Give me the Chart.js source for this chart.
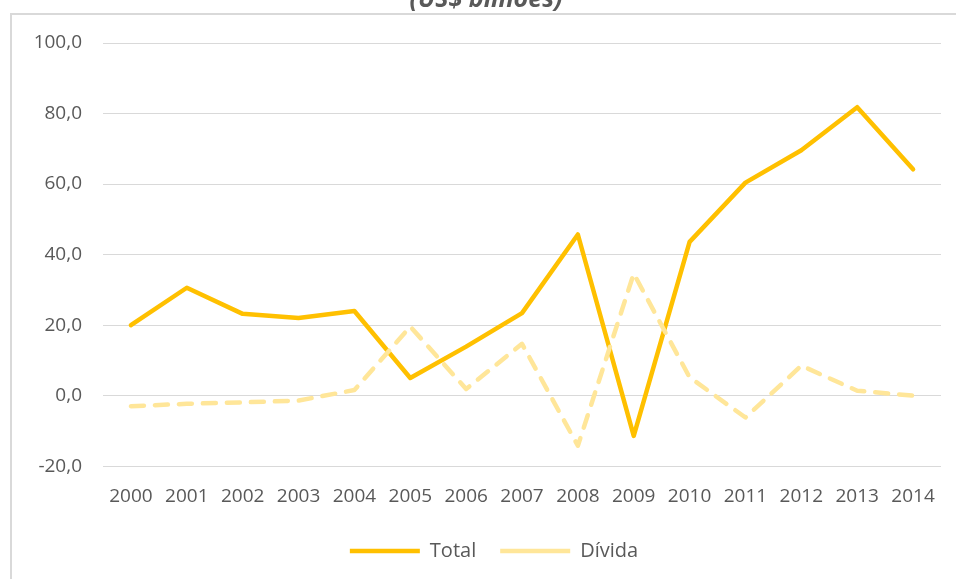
<!DOCTYPE html>
<html>
<head>
<meta charset="utf-8">
<script src="https://cdn.jsdelivr.net/npm/chart.js@4"></script>
<style>
	html, body { margin: 0; padding: 0; background: #fff; overflow: hidden; }
	body { width: 956px; height: 579px; position: relative; }
	#frame {
		position: absolute; left: 10px; top: 13px; width: 960px; height: 580px;
		border-top: 2px solid #d9d9d9; border-left: 2px solid #d9d9d9;
	}
	#wrap { position: absolute; left: 0; top: -15px; width: 956px; height: 594px; }
</style>
</head>
<body>
<div id="frame"></div>
<div id="wrap"><canvas id="chartIED"></canvas></div>
<script>
'use strict';

const anos = ['2000', '2001', '2002', '2003', '2004', '2005', '2006', '2007', '2008', '2009', '2010', '2011', '2012', '2013', '2014'];
const total = [20.0, 30.6, 23.2, 22.0, 24.0, 5.0, 13.9, 23.4, 45.7, -11.4, 43.6, 60.4, 69.6, 81.8, 64.2];
const divida = [-3.0, -2.3, -1.9, -1.4, 1.6, 19.6, 1.9, 14.7, -14.2, 34.6, 5.2, -6.2, 8.5, 1.4, 0.0];
const titulo = '(US$ bilhões)';

Chart.defaults.font.family = "'Open Sans', sans-serif";
Chart.defaults.font.size = 19;
Chart.defaults.color = '#595959';

// legenda um pouco deslocada para a direita, como no gráfico do Excel
const shiftLegend = {
	id: 'shiftLegend',
	afterLayout: chart => {
		chart.legend.left += 8;
		chart.legend.right += 8;
	},
};

const ctx = document.getElementById('chartIED').getContext('2d');
const myChart = new Chart(ctx, {
	type: 'line',
	data: {
		labels: anos,
		datasets: [
			{
				label: 'Total',
				data: total,
				borderColor: '#FFC000',
				backgroundColor: '#FFC000',
				borderWidth: 4.5,
				borderCapStyle: 'round',
				borderJoinStyle: 'round',
				pointRadius: 0,
				order: 1,
			},
			{
				label: 'Dívida',
				data: divida,
				borderColor: '#FFE699',
				backgroundColor: '#FFE699',
				borderWidth: 4.5,
				borderDash: [13, 11],
				borderCapStyle: 'round',
				borderJoinStyle: 'round',
				pointRadius: 0,
				order: 0,
			},
		],
	},
	options: {
		responsive: true,
		maintainAspectRatio: false,
		animation: false,
		layout: {padding: {left: 31, right: 15, top: 0, bottom: 8}},
		plugins: {
			title: {
				display: true,
				text: titulo,
				font: {size: 25, weight: 'bold', style: 'italic'},
				color: '#595959',
				padding: {top: 0, bottom: 28},
			},
			legend: {
				position: 'bottom',
				labels: {
					usePointStyle: true,
					pointStyle: 'line',
					pointStyleWidth: 70,
					boxHeight: 20,
					padding: 24,
					font: {size: 20},
					sort: (a, b) => a.datasetIndex - b.datasetIndex,
				},
			},
			tooltip: {enabled: false},
		},
		scales: {
			x: {
				offset: true,
				grid: {display: false, drawTicks: false},
				border: {display: false},
				ticks: {padding: 19, maxRotation: 0, autoSkip: false},
				afterFit: scale => { scale.height -= 10; },
			},
			y: {
				min: -20,
				max: 100,
				grid: {color: '#d9d9d9', lineWidth: 1, drawTicks: false},
				border: {display: false},
				ticks: {
					stepSize: 20,
					padding: 21,
					callback: v => v.toFixed(1).replace('.', ','),
				},
				afterFit: scale => { scale.width = 72; },
			},
		},
	},
	plugins: [shiftLegend],
});
</script>
</body>
</html>
